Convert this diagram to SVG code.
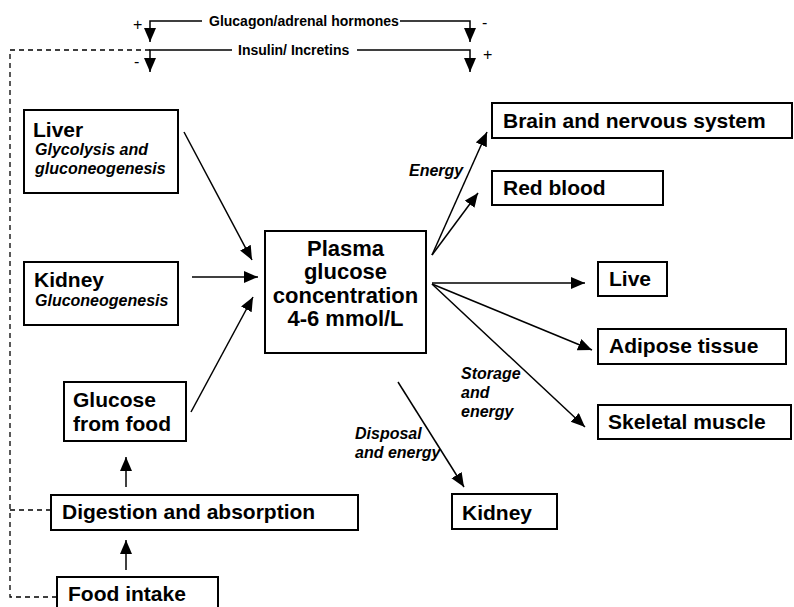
<svg xmlns="http://www.w3.org/2000/svg" width="794" height="607" viewBox="0 0 794 607">
<style>
.box{fill:#fff;stroke:#000;stroke-width:2}
.t{font-family:"Liberation Sans",Arial,sans-serif;font-weight:bold;font-size:21px;fill:#000}
.c{font-size:22px;text-anchor:middle}
.i{font-family:"Liberation Sans",Arial,sans-serif;font-weight:bold;font-style:italic;font-size:16px;fill:#000}
.s{font-family:"Liberation Sans",Arial,sans-serif;font-weight:bold;font-size:14px;fill:#000}
.sign{font-family:"Liberation Sans",Arial,sans-serif;font-size:16px;fill:#000}
.ln{fill:none;stroke:#000;stroke-width:1.5}
.dash{fill:none;stroke:#000;stroke-width:1.3;stroke-dasharray:5 4}
</style>
<defs>
<marker id="ah" markerUnits="userSpaceOnUse" markerWidth="16" markerHeight="14" refX="14" refY="6" orient="auto">
<path d="M0,0 L14,6 L0,12 Z" fill="#000"/>
</marker>
</defs>
<rect width="794" height="607" fill="#fff"/>

<g id="connectors">
<path class="dash" d="M150,50 H10 V597 H57"/>
<path class="dash" d="M10,510 H51"/>
<path class="ln" d="M202,21 H150 V42" marker-end="url(#ah)"/>
<path class="ln" d="M400,21 H470 V42" marker-end="url(#ah)"/>
<path class="ln" d="M232,50 H150 V72" marker-end="url(#ah)"/>
<path class="ln" d="M357,50 H470 V72" marker-end="url(#ah)"/>
<line class="ln" x1="184" y1="132" x2="252" y2="260" marker-end="url(#ah)"/>
<line class="ln" x1="192" y1="277" x2="258" y2="277" marker-end="url(#ah)"/>
<line class="ln" x1="191" y1="412" x2="253" y2="297" marker-end="url(#ah)"/>
<line class="ln" x1="126" y1="487" x2="126" y2="457" marker-end="url(#ah)"/>
<line class="ln" x1="126" y1="570" x2="126" y2="540" marker-end="url(#ah)"/>
<line class="ln" x1="432" y1="255" x2="487" y2="132" marker-end="url(#ah)"/>
<line class="ln" x1="432" y1="255" x2="478" y2="193" marker-end="url(#ah)"/>
<line class="ln" x1="432" y1="283" x2="585" y2="283" marker-end="url(#ah)"/>
<line class="ln" x1="432" y1="284" x2="592" y2="350" marker-end="url(#ah)"/>
<line class="ln" x1="432" y1="284" x2="585" y2="427" marker-end="url(#ah)"/>
<line class="ln" x1="398" y1="382" x2="464" y2="487" marker-end="url(#ah)"/>
</g>

<g id="labels">
<text class="s" x="209" y="26">Glucagon/adrenal hormones</text>
<text class="s" x="238" y="55">Insulin/ Incretins</text>
<text class="sign" x="133" y="30">+</text>
<text class="sign" x="482" y="28">-</text>
<text class="sign" x="134" y="67">-</text>
<text class="sign" x="483" y="60">+</text>
<text class="i" x="409" y="176" font-size="15">Energy</text>
<text class="i" x="461" y="379">Storage</text>
<text class="i" x="461" y="398">and</text>
<text class="i" x="461" y="417">energy</text>
<text class="i" x="355" y="439">Disposal</text>
<text class="i" x="355" y="458">and energy</text>
</g>

<g id="liver">
<rect class="box" x="24" y="110" width="154" height="83"/>
<text class="t" x="33" y="137">Liver</text>
<text class="i" x="35" y="155">Glycolysis and</text>
<text class="i" x="35" y="174">gluconeogenesis</text>
</g>
<g id="kidney-source">
<rect class="box" x="24" y="262" width="154" height="63"/>
<text class="t" x="34" y="287">Kidney</text>
<text class="i" x="35" y="306">Gluconeogenesis</text>
</g>
<g id="glucose-food">
<rect class="box" x="64" y="382" width="122" height="59"/>
<text class="t" x="73" y="407">Glucose</text>
<text class="t" x="73" y="431">from food</text>
</g>
<g id="digestion">
<rect class="box" x="51" y="495" width="307" height="35"/>
<text class="t" x="62" y="519">Digestion and absorption</text>
</g>
<g id="food-intake">
<rect class="box" x="57" y="577" width="161" height="40"/>
<text class="t" x="68" y="601">Food intake</text>
</g>
<g id="plasma">
<rect class="box" x="265" y="231" width="161" height="122"/>
<text class="t c" x="345.5" y="256">Plasma</text>
<text class="t c" x="345.5" y="279">glucose</text>
<text class="t c" x="345.5" y="303">concentration</text>
<text class="t c" x="345.5" y="326">4-6 mmol/L</text>
</g>
<g id="brain">
<rect class="box" x="492" y="103" width="300" height="35"/>
<text class="t" x="503" y="128">Brain and nervous system</text>
</g>
<g id="red-blood">
<rect class="box" x="492" y="171" width="171" height="34"/>
<text class="t" x="503" y="195">Red blood</text>
</g>
<g id="live">
<rect class="box" x="598" y="262" width="69" height="34"/>
<text class="t" x="609" y="286">Live</text>
</g>
<g id="adipose">
<rect class="box" x="598" y="329" width="188" height="35"/>
<text class="t" x="609" y="353">Adipose tissue</text>
</g>
<g id="skeletal">
<rect class="box" x="598" y="405" width="193" height="34"/>
<text class="t" x="608" y="429">Skeletal muscle</text>
</g>
<g id="kidney-target">
<rect class="box" x="452" y="494" width="105" height="35"/>
<text class="t" x="462" y="520">Kidney</text>
</g>
</svg>
